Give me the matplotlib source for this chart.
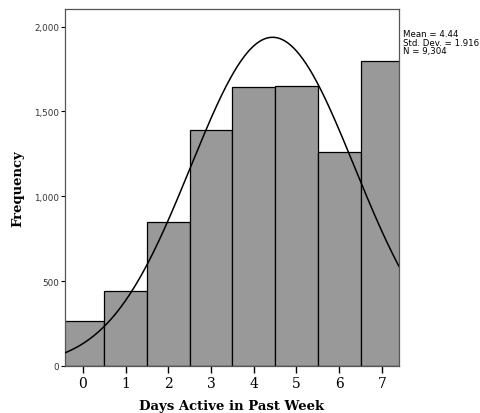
import numpy as np
import matplotlib
matplotlib.use("Agg")
import matplotlib.pyplot as plt

days = [0, 1, 2, 3, 4, 5, 6, 7]
freq = [267, 444, 848, 1393, 1647, 1653, 1263, 1795]
mean, sd, n = 4.44, 1.916, 9304
ytick_vals = [0, 500, 1000, 1500, 2000]
ytick_labels = ["0", "500", "1,000", "1,500", "2,000"]

fig = plt.figure(figsize=(4.8, 4.14), dpi=100)
ax = fig.add_axes([65/480, 47/414, 334/480, 357/414])

ax.bar(days, freq, width=1.0, color="#999999", edgecolor="black", linewidth=0.9, zorder=2)

# normal curve from the reported mean / sd
xs = np.linspace(-0.5, 7.5, 300)
pdf = n * np.exp(-0.5 * ((xs - mean) / sd) ** 2) / (sd * np.sqrt(2 * np.pi))
ax.plot(xs, pdf, color="black", linewidth=1.1, zorder=3)

ax.set_xlim(-0.42, 7.4)
ax.set_ylim(0, 2104)
ax.set_xticks(days)
ax.set_xticklabels([str(d) for d in days], family="DejaVu Serif", fontsize=10)
ax.set_yticks(ytick_vals)
ax.set_yticklabels(ytick_labels, family="DejaVu Sans", fontsize=6.3, color="#333333")
ax.tick_params(axis="x", length=5, width=1, pad=2)
ax.tick_params(axis="y", length=3, width=0.8, pad=1)

for s in ax.spines.values():
    s.set_color("#555555")
    s.set_linewidth(0.9)

ax.set_xlabel("Days Active in Past Week", family="DejaVu Serif", fontweight="bold", fontsize=9.5, labelpad=7)
ax.set_ylabel("Frequency", family="DejaVu Serif", fontweight="bold", fontsize=9.5, labelpad=7)

fig.text(403/480, 1 - 30/414, "Mean = 4.44\nStd. Dev. = 1.916\nN = 9,304",
         family="DejaVu Sans", fontsize=6.2, va="top", ha="left", linespacing=0.95)

fig.savefig("out.png", dpi=100)
